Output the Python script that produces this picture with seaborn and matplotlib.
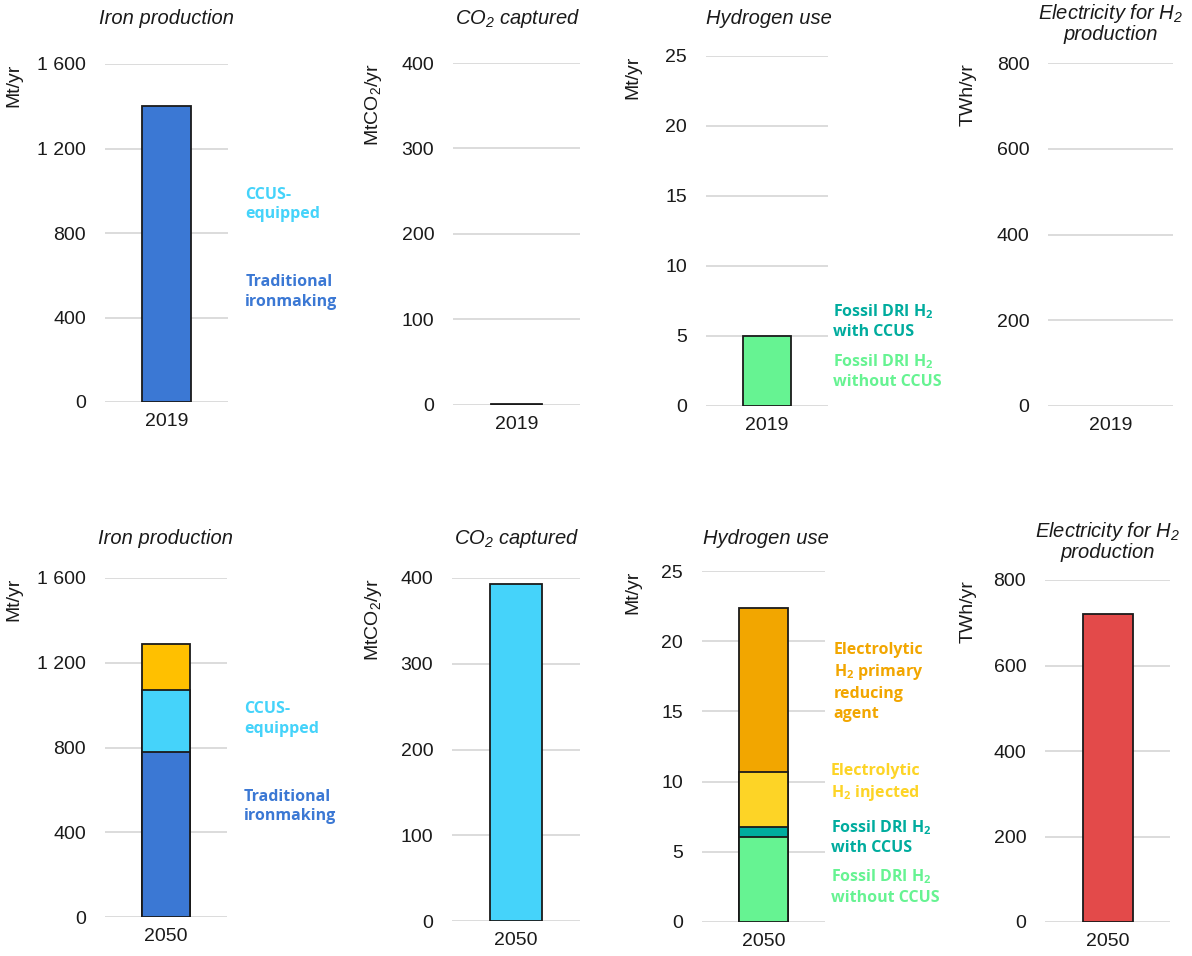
import numpy as np
import pandas as pd
import matplotlib
matplotlib.use("Agg")
import matplotlib.pyplot as plt
import seaborn as sns

# ---- data ----
years = ["2019", "2050"]

iron_traditional = [1401, 779]
iron_ccus = [0, 292]
iron_innovative = [0, 217]

co2_captured = [1, 393]

h2_fossil_no_ccus = [5.0, 6.05]
h2_fossil_ccus = [0, 0.7]
h2_elec_injected = [0, 3.9]
h2_elec_primary = [0, 11.75]

electricity_h2 = [0, 720]

iron_ticks = [0, 400, 800, 1200, 1600]
iron_ticklabels = ["0", "400", "800", "1 200", "1 600"]
co2_ticks = [0, 100, 200, 300, 400]
h2_ticks = [0, 5, 10, 15, 20, 25]
elec_ticks = [0, 200, 400, 600, 800]

# colours
C_TRAD = "#3B78D4"
C_CCUS = "#45D3FA"
C_INNOV = "#FFC000"
C_FOS = "#66F392"
C_FOS_CCUS = "#00AC9E"
C_INJ = "#FDD426"
C_PRIM = "#F2A600"
C_ELEC = "#E34A4A"
EDGE = "#1A1A1A"
GRID = "#D9D9D9"
TXT = "#1A1A1A"

sns.set_style("white")
plt.rcParams["font.family"] = ["Liberation Sans", "DejaVu Sans"]
plt.rcParams["mathtext.fontset"] = "custom"
plt.rcParams["mathtext.default"] = "regular"

W, H = 1192, 956
fig = plt.figure(figsize=(W / 100, H / 100), dpi=100)


def add_panel(left, right, y0, ytop):
    # pixel box -> figure fraction
    return fig.add_axes([left / W, 1 - y0 / H, (right - left) / W, (y0 - ytop) / H])


def stacked(ax, year, layers):
    vals = [v for v, c in layers]
    tops = np.cumsum(vals)
    for (v, c), top in reversed(list(zip(layers, tops))):
        if v <= 0:
            continue
        df = pd.DataFrame({"year": [year], "value": [top]})
        sns.barplot(data=df, x="year", y="value", color=c, width=0.4, saturation=1,
                    edgecolor=EDGE, linewidth=1.3, ax=ax, zorder=2)
    ax.set_xticks([0], [year])


def style(ax, ticks, labels, ylabel, lab_right_px, left_px, right_px):
    ax.set_xlim(-0.5, 0.5)
    ax.set_ylim(0, ticks[-1])
    ax.set_yticks(ticks, labels)
    ax.grid(axis="y", color=GRID, lw=1.3)
    ax.grid(axis="x", visible=False)
    ax.set_axisbelow(True)
    sns.despine(ax=ax, left=True, bottom=True)
    ax.tick_params(axis="both", length=0, labelsize=14, labelcolor=TXT)
    ax.tick_params(axis="y", pad=13.5)
    ax.tick_params(axis="x", pad=8)
    ax.set_xlabel("")
    ax.set_ylabel(ylabel, loc="top", fontsize=14, color=TXT)
    ax.yaxis.set_label_coords((lab_right_px - left_px) / (right_px - left_px), 1.0)


def title(text, xc, yc):
    fig.text(xc / W, 1 - yc / H, text, ha="center", va="center", fontsize=14.5,
             style="italic", color=TXT, linespacing=1.05)


def note(ax, x, y, text, color):
    ax.text(x, y, text, transform=ax.get_yaxis_transform(), ha="left", va="center",
            fontsize=11.5, fontweight="bold", color=color, family="Open Sans",
            linespacing=1.3)


rows = [
    dict(i=0, iron=(105, 228, 402, 64), co2=(453, 580, 405, 63), h2=(706, 828, 406, 56),
         elec=(1048, 1173, 406, 63), t1=18, t2=23),
    dict(i=1, iron=(105, 227, 917, 578), co2=(452, 580, 921, 578), h2=(702, 825, 922, 571),
         elec=(1045, 1170, 922, 580), t1=538, t2=541),
]

for r in rows:
    i = r["i"]
    yr = years[i]

    # iron production
    l, rr, y0, yt = r["iron"]
    ax = add_panel(l, rr, y0, yt)
    stacked(ax, yr, [(iron_traditional[i], C_TRAD), (iron_ccus[i], C_CCUS),
                     (iron_innovative[i], C_INNOV)])
    style(ax, iron_ticks, iron_ticklabels, "Mt/yr", 22, l, rr)
    title("Iron production", (l + rr) / 2, r["t1"])
    note(ax, 1.14, 935, "CCUS-\nequipped", C_CCUS)
    note(ax, 1.14, 522, "Traditional\nironmaking", C_TRAD)

    # CO2 captured
    l, rr, y0, yt = r["co2"]
    ax = add_panel(l, rr, y0, yt)
    stacked(ax, yr, [(co2_captured[i], C_CCUS)])
    style(ax, co2_ticks, [str(t) for t in co2_ticks], "MtCO$_2$/yr", 384, l, rr)
    title("CO$_2$ captured", (l + rr) / 2 + 1, r["t1"])

    # hydrogen use
    l, rr, y0, yt = r["h2"]
    ax = add_panel(l, rr, y0, yt)
    stacked(ax, yr, [(h2_fossil_no_ccus[i], C_FOS), (h2_fossil_ccus[i], C_FOS_CCUS),
                     (h2_elec_injected[i], C_INJ), (h2_elec_primary[i], C_PRIM)])
    style(ax, h2_ticks, [str(t) for t in h2_ticks], "Mt/yr", 641, l, rr)
    title("Hydrogen use", (l + rr) / 2 + 2, r["t1"])
    if i == 1:
        note(ax, 1.07, 17.1, "Electrolytic\nH$_2$ primary\nreducing\nagent", C_PRIM)
        note(ax, 1.045, 9.9, "Electrolytic\nH$_2$ injected", C_INJ)
    note(ax, 1.045, 6.05, "Fossil DRI H$_2$\nwith CCUS", C_FOS_CCUS)
    note(ax, 1.045, 2.5, "Fossil DRI H$_2$\nwithout CCUS", C_FOS)

    # electricity for H2
    l, rr, y0, yt = r["elec"]
    ax = add_panel(l, rr, y0, yt)
    stacked(ax, yr, [(electricity_h2[i], C_ELEC)])
    style(ax, elec_ticks, [str(t) for t in elec_ticks], "TWh/yr", 977, l, rr)
    title("Electricity for H$_2$\nproduction", (l + rr) / 2, r["t2"])

fig.savefig("out.png", dpi=100)
